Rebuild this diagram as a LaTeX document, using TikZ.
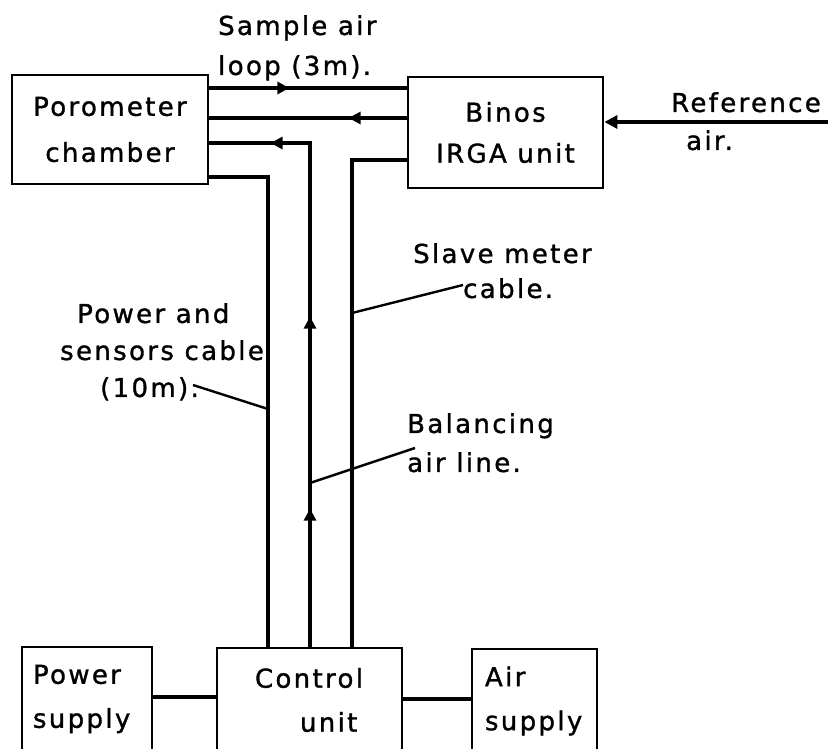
\documentclass[tikz,border=0pt]{standalone}
\usepackage{fontspec}
\setmainfont{DejaVu Sans}[LetterSpace=9,FakeBold=1.2]
\usetikzlibrary{arrows.meta,decorations.markings}
\tikzset{
  box/.style={draw, line width=2.8pt, inner sep=0pt, align=center},
  pipe/.style={line width=3.2pt},
  leader/.style={line width=2.4pt},
  lbl/.style={inner sep=0pt, font=\fontsize{26}{38}\selectfont},
  marks/.style={postaction={decorate}, decoration={markings, #1}}
}
\begin{document}
\begin{tikzpicture}[x=1pt,y=-1pt, >={Triangle[length=12pt,width=12pt]}]
\useasboundingbox (0,0) rectangle (828,749);
\clip (0,0) rectangle (828,749);
% boxes
\node[box, minimum width=196pt, minimum height=109pt, font=\fontsize{26}{46}\selectfont] (poro) at (110,129.5) {Porometer\\chamber};
\node[box, minimum width=195pt, minimum height=111pt, font=\fontsize{26}{41}\selectfont] (binos) at (505.5,132.5) {Binos\\IRGA unit};
\node[box, align=left, text width=108pt, minimum width=130pt, minimum height=104pt, font=\fontsize{26}{44}\selectfont] (pwr) at (87,699) {Power\\supply};
\node[box, align=left, text width=109pt, minimum width=185pt, minimum height=104pt, font=\fontsize{26}{44}\selectfont] (ctrl) at (309.5,700) {Control\\\hspace*{45pt}unit};
\node[box, align=left, text width=99pt, minimum width=125pt, minimum height=104pt, font=\fontsize{26}{44}\selectfont] (air) at (534.5,701) {Air\\supply};
% connectors
\draw[pipe] (pwr.east |- 0,697) -- (ctrl.west |- 0,697);
\draw[pipe] (ctrl.east |- 0,699) -- (air.west |- 0,699);
\draw[pipe, marks={mark=at position 80pt with {\arrow{>}}}] (poro.east |- 0,88) -- (binos.west |- 0,88);
\draw[pipe, marks={mark=at position 58pt with {\arrow{>}}}] (binos.west |- 0,118) -- (poro.east |- 0,118);
\draw[pipe, marks={mark=at position 138pt with {\arrow{>}}, mark=at position 330pt with {\arrow{>}}, mark=at position 543pt with {\arrow{>}}}] (ctrl.north -| 310,0) |- (poro.east |- 0,143);
\draw[pipe] (ctrl.north -| 268,0) |- (poro.east |- 0,177);
\draw[pipe] (ctrl.north -| 352,0) |- (binos.west |- 0,160);
\coordinate (refsrc) at (828,122);
\draw[pipe, -{Triangle[length=13pt,width=13pt]}] (refsrc) -- (binos.east |- refsrc);
% labels
\node[lbl, align=left, anchor=north west, font=\fontsize{26}{40}\selectfont] (samplelbl) at (218,15) {Sample air\\loop (3m).};
\node[lbl, align=left, anchor=north west] (reflbl) at (671,92) {Reference\\\hspace*{15pt}air.};
\node[lbl, align=left, anchor=north west, font=\fontsize{26}{37}\selectfont] (pwrlbl) at (60,303) {\hspace*{17pt}Power and\\sensors cable\\\hspace*{40pt}(10m).};
\node[lbl, align=left, anchor=north west, font=\fontsize{26}{35}\selectfont] (slavelbl) at (413,243) {Slave meter\\\hspace*{50pt}cable.};
\node[lbl, align=left, anchor=north west, font=\fontsize{26}{39}\selectfont] (ballbl) at (407,413) {Balancing\\air line.};
% leaders
\coordinate (pl1) at (193,385); \coordinate (pl2) at (268,409);
\coordinate (sl1) at (352,313); \coordinate (sl2) at (463,285);
\coordinate (bl1) at (310,483); \coordinate (bl2) at (415,448);
\draw[leader] (pl1) -- (pl2);
\draw[leader] (sl1) -- (sl2);
\draw[leader] (bl1) -- (bl2);
\end{tikzpicture}
\end{document}
